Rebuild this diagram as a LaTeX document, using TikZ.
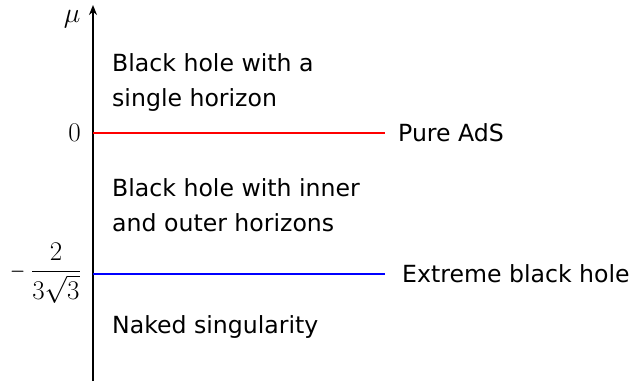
\RequirePackage{fix-cm}
\documentclass[tikz,border=0pt]{standalone}
\usepackage{amsmath}
\usepackage{graphicx}
\usepackage{fontspec}
\setsansfont{DejaVu Sans}
\usetikzlibrary{positioning,arrows.meta}

\begin{document}
\begin{tikzpicture}[x=1pt,y=-1pt,
    region/.style={font=\sffamily\fontsize{23.6}{35}\selectfont, align=left, anchor=west, inner sep=0pt},
    tick/.style={anchor=east, inner sep=0pt, font=\fontsize{27}{30}\selectfont}]
  \useasboundingbox (0,0) rectangle (635,383);

  % axis
  \coordinate (base) at (93,381);
  \coordinate (top) at (93,5);
  \draw[line width=2.4pt, -{Stealth[length=10pt,width=8pt]}] (base) -- (top);
  \node (mu) at (72,19) {\fontsize{28}{32}\selectfont$\mu$};

  % mu = 0
  \coordinate (ads0) at (93,133);
  \coordinate (ads1) at (385,133);
  \draw[red, line width=2.2pt] (ads0) -- (ads1);
  \node[tick] (zero) at (81,133) {$0$};
  \node[region] (ads) at (398,133) {Pure AdS};

  % mu = -2/(3 sqrt 3)
  \coordinate (ext0) at (93,274);
  \coordinate (ext1) at (385,274);
  \draw[blue, line width=2.2pt] (ext0) -- (ext1);
  \node[tick] (frac) at (81,273) {$\scalebox{0.72}[1]{$-$}\mkern4mu\dfrac{2}{3\sqrt{3}}$};
  \node[region] (ext) at (402,274) {Extreme black hole};

  % regions
  \node[region] (single) at (112,82) {Black hole with a\\single horizon};
  \node[region] (inner) at (112,205) {Black hole with inner\\and outer horizons};
  \node[region] (naked) at (112,327) {Naked singularity};
\end{tikzpicture}
\end{document}
